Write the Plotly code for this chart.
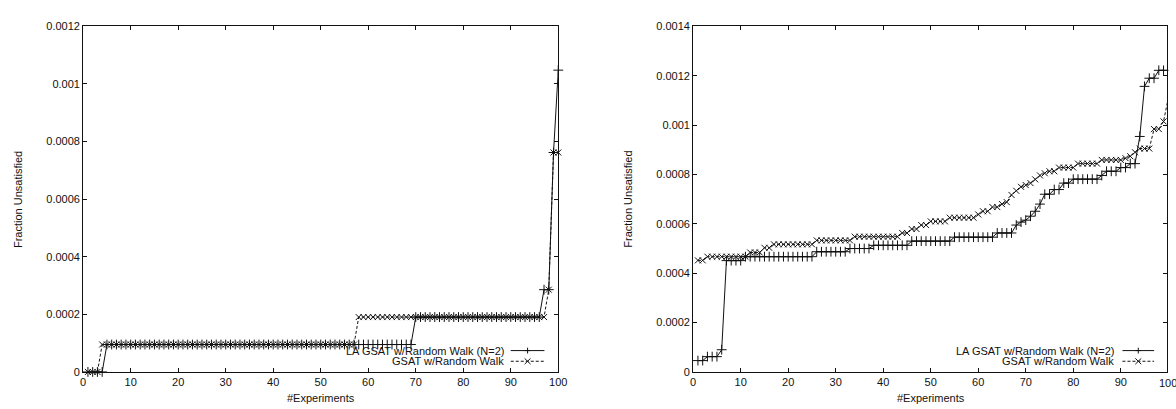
import plotly.graph_objects as go

W, H = 1176, 409

# ---------------- data ----------------
experiments = list(range(1, 101))

left_la = [
    0, 0, 0, 0, 9.52e-5, 9.52e-5, 9.52e-5, 9.52e-5, 9.52e-5, 9.52e-5,
    9.52e-5, 9.52e-5, 9.52e-5, 9.52e-5, 9.52e-5, 9.52e-5, 9.52e-5, 9.52e-5, 9.52e-5, 9.52e-5,
    9.52e-5, 9.52e-5, 9.52e-5, 9.52e-5, 9.52e-5, 9.52e-5, 9.52e-5, 9.52e-5, 9.52e-5, 9.52e-5,
    9.52e-5, 9.52e-5, 9.52e-5, 9.52e-5, 9.52e-5, 9.52e-5, 9.52e-5, 9.52e-5, 9.52e-5, 9.52e-5,
    9.52e-5, 9.52e-5, 9.52e-5, 9.52e-5, 9.52e-5, 9.52e-5, 9.52e-5, 9.52e-5, 9.52e-5, 9.52e-5,
    9.52e-5, 9.52e-5, 9.52e-5, 9.52e-5, 9.52e-5, 9.52e-5, 9.52e-5, 9.52e-5, 9.52e-5, 9.52e-5,
    9.52e-5, 9.52e-5, 9.52e-5, 9.52e-5, 9.52e-5, 9.52e-5, 9.52e-5, 9.52e-5, 9.52e-5, 1.905e-4,
    1.905e-4, 1.905e-4, 1.905e-4, 1.905e-4, 1.905e-4, 1.905e-4, 1.905e-4, 1.905e-4, 1.905e-4, 1.905e-4,
    1.905e-4, 1.905e-4, 1.905e-4, 1.905e-4, 1.905e-4, 1.905e-4, 1.905e-4, 1.905e-4, 1.905e-4, 1.905e-4,
    1.905e-4, 1.905e-4, 1.905e-4, 1.905e-4, 1.905e-4, 1.905e-4, 2.857e-4, 2.857e-4, 7.62e-4, 1.048e-3,
]

left_gsat = [
    0, 0, 0, 9.52e-5, 9.52e-5, 9.52e-5, 9.52e-5, 9.52e-5, 9.52e-5, 9.52e-5,
    9.52e-5, 9.52e-5, 9.52e-5, 9.52e-5, 9.52e-5, 9.52e-5, 9.52e-5, 9.52e-5, 9.52e-5, 9.52e-5,
    9.52e-5, 9.52e-5, 9.52e-5, 9.52e-5, 9.52e-5, 9.52e-5, 9.52e-5, 9.52e-5, 9.52e-5, 9.52e-5,
    9.52e-5, 9.52e-5, 9.52e-5, 9.52e-5, 9.52e-5, 9.52e-5, 9.52e-5, 9.52e-5, 9.52e-5, 9.52e-5,
    9.52e-5, 9.52e-5, 9.52e-5, 9.52e-5, 9.52e-5, 9.52e-5, 9.52e-5, 9.52e-5, 9.52e-5, 9.52e-5,
    9.52e-5, 9.52e-5, 9.52e-5, 9.52e-5, 9.52e-5, 9.52e-5, 9.52e-5, 1.905e-4, 1.905e-4, 1.905e-4,
    1.905e-4, 1.905e-4, 1.905e-4, 1.905e-4, 1.905e-4, 1.905e-4, 1.905e-4, 1.905e-4, 1.905e-4, 1.905e-4,
    1.905e-4, 1.905e-4, 1.905e-4, 1.905e-4, 1.905e-4, 1.905e-4, 1.905e-4, 1.905e-4, 1.905e-4, 1.905e-4,
    1.905e-4, 1.905e-4, 1.905e-4, 1.905e-4, 1.905e-4, 1.905e-4, 1.905e-4, 1.905e-4, 1.905e-4, 1.905e-4,
    1.905e-4, 1.905e-4, 1.905e-4, 1.905e-4, 1.905e-4, 1.905e-4, 1.905e-4, 2.857e-4, 7.62e-4, 7.62e-4,
]

right_la = [
    4.6e-5, 4.6e-5, 6.2e-5, 6.2e-5, 6.2e-5, 9.0e-5, 4.51e-4, 4.51e-4, 4.51e-4, 4.51e-4,
    4.67e-4, 4.67e-4, 4.67e-4, 4.67e-4, 4.67e-4, 4.67e-4, 4.67e-4, 4.67e-4, 4.67e-4, 4.67e-4,
    4.67e-4, 4.67e-4, 4.67e-4, 4.67e-4, 4.67e-4, 4.87e-4, 4.87e-4, 4.87e-4, 4.87e-4, 4.87e-4,
    4.87e-4, 4.87e-4, 5.0e-4, 5.0e-4, 5.0e-4, 5.0e-4, 5.0e-4, 5.13e-4, 5.13e-4, 5.13e-4,
    5.13e-4, 5.13e-4, 5.13e-4, 5.13e-4, 5.13e-4, 5.3e-4, 5.3e-4, 5.3e-4, 5.3e-4, 5.3e-4,
    5.3e-4, 5.3e-4, 5.3e-4, 5.3e-4, 5.46e-4, 5.46e-4, 5.46e-4, 5.46e-4, 5.46e-4, 5.46e-4,
    5.46e-4, 5.46e-4, 5.46e-4, 5.63e-4, 5.63e-4, 5.63e-4, 5.63e-4, 5.95e-4, 6.07e-4, 6.15e-4,
    6.31e-4, 6.51e-4, 6.8e-4, 7.2e-4, 7.2e-4, 7.39e-4, 7.39e-4, 7.65e-4, 7.65e-4, 7.81e-4,
    7.81e-4, 7.81e-4, 7.81e-4, 7.81e-4, 7.81e-4, 7.96e-4, 8.13e-4, 8.13e-4, 8.13e-4, 8.28e-4,
    8.28e-4, 8.44e-4, 8.44e-4, 9.54e-4, 1.157e-3, 1.19e-3, 1.19e-3, 1.222e-3, 1.222e-3, 1.222e-3,
]

right_gsat = [
    4.52e-4, 4.52e-4, 4.67e-4, 4.67e-4, 4.67e-4, 4.67e-4, 4.67e-4, 4.67e-4, 4.67e-4, 4.67e-4,
    4.67e-4, 4.84e-4, 4.84e-4, 4.84e-4, 5.03e-4, 5.03e-4, 5.17e-4, 5.17e-4, 5.17e-4, 5.17e-4,
    5.17e-4, 5.17e-4, 5.17e-4, 5.17e-4, 5.17e-4, 5.33e-4, 5.33e-4, 5.33e-4, 5.33e-4, 5.33e-4,
    5.33e-4, 5.33e-4, 5.33e-4, 5.48e-4, 5.48e-4, 5.48e-4, 5.48e-4, 5.48e-4, 5.48e-4, 5.48e-4,
    5.48e-4, 5.48e-4, 5.48e-4, 5.63e-4, 5.63e-4, 5.79e-4, 5.79e-4, 5.95e-4, 5.95e-4, 6.1e-4,
    6.1e-4, 6.1e-4, 6.1e-4, 6.25e-4, 6.25e-4, 6.25e-4, 6.25e-4, 6.25e-4, 6.25e-4, 6.38e-4,
    6.51e-4, 6.51e-4, 6.68e-4, 6.68e-4, 6.8e-4, 6.88e-4, 7.17e-4, 7.34e-4, 7.5e-4, 7.57e-4,
    7.65e-4, 7.8e-4, 7.96e-4, 8.05e-4, 8.13e-4, 8.13e-4, 8.28e-4, 8.28e-4, 8.28e-4, 8.28e-4,
    8.44e-4, 8.44e-4, 8.44e-4, 8.44e-4, 8.44e-4, 8.59e-4, 8.59e-4, 8.59e-4, 8.59e-4, 8.59e-4,
    8.66e-4, 8.74e-4, 8.9e-4, 9.05e-4, 9.05e-4, 9.05e-4, 9.84e-4, 9.84e-4, 1.015e-3, 1.11e-3,
]

series_names = ["LA GSAT w/Random Walk (N=2)", "GSAT w/Random Walk"]

x_ticks = [0, 10, 20, 30, 40, 50, 60, 70, 80, 90, 100]
x_ticklabels = ["0", "10", "20", "30", "40", "50", "60", "70", "80", "90", "100"]
left_yticks = [0, 0.0002, 0.0004, 0.0006, 0.0008, 0.001, 0.0012]
left_yticklabels = ["0", "0.0002", "0.0004", "0.0006", "0.0008", "0.001", "0.0012"]
right_yticks = [0, 0.0002, 0.0004, 0.0006, 0.0008, 0.001, 0.0012, 0.0014]
right_yticklabels = ["0", "0.0002", "0.0004", "0.0006", "0.0008", "0.001", "0.0012", "0.0014"]

x_title = "#Experiments"
y_title = "Fraction Unsatisfied"

# ---------------- layout helpers ----------------
FONT = "Liberation Sans, Arial, sans-serif"
INK = "#111111"


def px(x):
    return x / W


def py(y):
    return 1 - y / H


PLOT_TOP, PLOT_BOTTOM = 21, 377
LEFT_X0, LEFT_X1 = 81, 561
RIGHT_X0, PX_PER_UNIT = 697.3, 4.8
right_x_max = (W - RIGHT_X0) / PX_PER_UNIT

fig = go.Figure()

panels = [
    (left_la, left_gsat, "x", "y"),
    (right_la, right_gsat, "x2", "y2"),
]
for la, gs, xa, ya in panels:
    fig.add_trace(go.Scatter(
        x=experiments, y=la, xaxis=xa, yaxis=ya, name=series_names[0],
        mode="lines+markers", showlegend=False, cliponaxis=False,
        line=dict(color=INK, width=1),
        marker=dict(symbol="cross-thin", size=7, color=INK, line=dict(color=INK, width=1)),
    ))
    fig.add_trace(go.Scatter(
        x=experiments, y=gs, xaxis=xa, yaxis=ya, name=series_names[1],
        mode="lines+markers", showlegend=False, cliponaxis=False,
        line=dict(color=INK, width=1, dash="3px,2px"),
        marker=dict(symbol="x-thin", size=6, color=INK, line=dict(color=INK, width=1)),
    ))

axis_common = dict(
    showgrid=False, zeroline=False, showline=True, linecolor=INK, linewidth=1,
    ticks="inside", ticklen=4, tickcolor=INK, tickwidth=1, mirror="ticks",
    tickfont=dict(family=FONT, size=11, color=INK),
)
ydom = [py(PLOT_BOTTOM), py(PLOT_TOP)]

fig.update_layout(
    width=W, height=H,
    margin=dict(l=0, r=0, t=0, b=0),
    paper_bgcolor="white", plot_bgcolor="white",
    xaxis=dict(axis_common, domain=[px(LEFT_X0), px(LEFT_X1)], range=[0, 100],
               tickvals=x_ticks, ticktext=x_ticklabels, anchor="y"),
    yaxis=dict(axis_common, domain=ydom, range=[0, 0.0012],
               tickvals=left_yticks, ticktext=left_yticklabels, anchor="x"),
    xaxis2=dict(axis_common, domain=[px(RIGHT_X0), 1], range=[0, right_x_max],
                tickvals=x_ticks, ticktext=x_ticklabels, anchor="y2"),
    yaxis2=dict(axis_common, domain=ydom, range=[0, 0.0014],
                tickvals=right_yticks, ticktext=right_yticklabels, anchor="x2"),
)

annotations = []
shapes = []

# axis titles
for cx in [(LEFT_X0 + LEFT_X1) / 2, (RIGHT_X0 + RIGHT_X0 + 100 * PX_PER_UNIT) / 2]:
    annotations.append(dict(text=x_title, xref="paper", yref="paper", x=px(cx), y=py(404),
                            xanchor="center", yanchor="middle", showarrow=False,
                            font=dict(family=FONT, size=11, color=INK)))
for cx in [15, 632]:
    annotations.append(dict(text=y_title, xref="paper", yref="paper", x=px(cx), y=py(199),
                            xanchor="center", yanchor="middle", showarrow=False, textangle=-90,
                            font=dict(family=FONT, size=11, color=INK)))

# clipped "100" label at the right edge of the second panel
annotations.append(dict(text=x_ticklabels[-1], xref="paper", yref="paper",
                        x=px(RIGHT_X0 + 100 * PX_PER_UNIT), y=py(388),
                        xanchor="center", yanchor="middle", showarrow=False,
                        font=dict(family=FONT, size=11, color=INK)))

# gnuplot-style keys (text on the left, sample on the right)
for text_end, s0, s1 in [(508, 513, 547), (1124, 1131, 1163)]:
    mid = (s0 + s1) / 2
    for i, (yy, dash) in enumerate([(355, "solid"), (366, "3px,2px")]):
        annotations.append(dict(text=series_names[i], xref="paper", yref="paper",
                                x=px(text_end), y=py(yy), xanchor="right", yanchor="middle",
                                showarrow=False, font=dict(family=FONT, size=11, color=INK)))
        shapes.append(dict(type="line", xref="paper", yref="paper", x0=px(s0), x1=px(s1),
                           y0=py(yy), y1=py(yy), line=dict(color=INK, width=1, dash=dash)))
        if i == 0:
            segs = [((mid - 3, yy), (mid + 3, yy)), ((mid, yy - 3), (mid, yy + 3))]
        else:
            segs = [((mid - 3, yy - 3), (mid + 3, yy + 3)), ((mid - 3, yy + 3), (mid + 3, yy - 3))]
        for (a, b), (c, d) in segs:
            shapes.append(dict(type="line", xref="paper", yref="paper", x0=px(a), y0=py(b),
                               x1=px(c), y1=py(d), line=dict(color=INK, width=1)))

fig.update_layout(annotations=annotations, shapes=shapes)

fig.write_html("out.html", config={"displayModeBar": False})
